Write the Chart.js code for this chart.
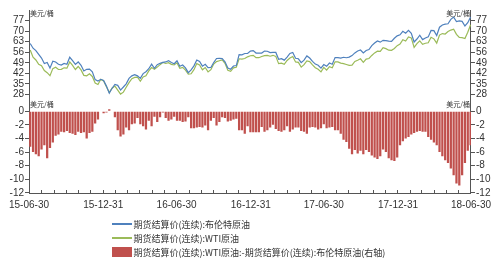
<!DOCTYPE html>
<html>
<head>
<meta charset="utf-8">
<script src="https://cdn.jsdelivr.net/npm/chart.js@4/dist/chart.umd.min.js"></script>
<style>
  html, body { margin: 0; padding: 0; background: #fff; }
  #wrap { position: relative; width: 500px; height: 259px; }
  .row { position: absolute; left: 112px; height: 14px; display: flex; align-items: center;
         font: 9px "Noto Sans CJK SC", sans-serif; color: #333; white-space: nowrap; }
  .ln { display: inline-block; width: 20px; height: 1.4px; margin-right: 1.5px; }
  .bx { display: inline-block; width: 20px; height: 10px; margin-right: 1.5px; background: #c0504d; }
</style>
</head>
<body>
<div id="wrap">
  <canvas id="oilChart" width="500" height="259"></canvas>
  <div class="row" style="top:217px"><span class="ln" style="background:#4f81bd"></span>期货结算价(连续):布伦特原油</div>
  <div class="row" style="top:231px"><span class="ln" style="background:#9bbb59"></span>期货结算价(连续):WTI原油</div>
  <div class="row" style="top:245px"><span class="bx"></span>期货结算价(连续):WTI原油:-期货结算价(连续):布伦特原油(右轴)</div>
</div>
<script>
// weekly (Friday) settlements, 2015-07-03 .. 2018-06-29
const firstWeek = '15-07-03';
const brent = [
  61.8, 58.7, 57.1, 54.6, 52.2, 48.6, 49.2, 45.5, 50.1, 49.6, 48.1, 47.5, 48.6, 48.1, 52.7, 50.5, 48.0, 49.6, 47.4, 43.6, 44.7, 44.9, 43.0, 37.9, 36.9, 38.1, 37.3,
  33.6, 28.9, 32.2, 34.7, 34.1, 31.0, 33.0, 35.1, 38.7, 40.4, 41.2, 40.4, 38.7, 41.9, 43.1, 45.1, 48.1, 45.4, 47.8, 48.7, 49.3, 49.6, 50.5, 49.2, 48.4,
  50.4, 46.8, 47.6, 45.7, 42.5, 44.3, 47.0, 50.9, 49.9, 46.8, 48.0, 45.8, 45.9, 49.2, 51.9, 52.0, 51.8, 49.7, 45.6, 44.8, 46.9, 47.2, 54.5, 54.3, 55.2, 55.2, 56.8,
  57.1, 55.5, 55.5, 55.5, 56.8, 56.7, 55.8, 56.0, 55.9, 51.4, 51.8, 50.8, 52.8, 55.2, 55.9, 52.0, 51.7, 49.1, 50.8, 53.6, 52.2, 50.0, 48.2, 47.4, 45.5, 47.9,
  46.7, 48.9, 48.1, 52.5, 52.4, 52.1, 52.7, 52.4, 52.8, 53.8, 55.6, 56.9, 57.5, 55.6, 57.2, 57.8, 60.4, 62.1, 63.5, 62.7, 63.9, 63.7, 63.4, 63.2, 65.3, 66.9,
  67.6, 69.9, 68.6, 70.5, 68.6, 62.8, 64.8, 67.3, 64.4, 65.5, 66.2, 70.5, 70.3, 67.1, 72.6, 74.1, 74.6, 74.9, 77.8, 79.3, 76.4, 76.8, 76.5, 73.4, 75.6, 79.4
];
const wti = [
  57.5, 52.7, 50.9, 48.1, 47.1, 43.9, 42.5, 40.5, 45.2, 46.1, 44.6, 44.7, 45.7, 45.5, 49.6, 47.3, 44.6, 46.6, 44.3, 40.7, 40.4, 41.7, 40.0, 35.6, 34.7, 38.1, 37.0,
  33.2, 29.4, 32.2, 33.6, 30.9, 28.3, 29.6, 32.8, 35.9, 38.5, 39.4, 39.5, 36.8, 39.7, 40.4, 43.7, 45.9, 44.7, 46.2, 47.8, 49.3, 48.6, 49.1, 48.0, 47.6,
  49.0, 45.4, 46.0, 44.2, 41.6, 41.8, 44.5, 48.5, 47.6, 44.4, 45.9, 43.0, 44.5, 48.2, 49.8, 50.4, 50.9, 48.7, 44.1, 43.4, 45.7, 46.1, 51.7, 51.5, 51.9, 53.0, 53.7,
  54.0, 52.4, 52.4, 53.2, 53.8, 53.9, 53.4, 54.0, 53.3, 48.5, 48.8, 48.0, 50.6, 52.2, 53.2, 49.6, 49.3, 46.2, 47.8, 50.3, 49.8, 47.7, 45.8, 44.7, 43.0, 46.0,
  44.2, 46.5, 45.8, 49.7, 49.6, 48.8, 48.5, 47.9, 47.3, 47.5, 49.9, 50.7, 51.7, 49.3, 51.5, 51.9, 53.9, 55.6, 56.7, 56.6, 59.0, 58.4, 57.4, 57.3, 58.5, 60.4,
  61.4, 64.3, 63.4, 66.1, 65.5, 59.2, 61.7, 63.6, 61.3, 62.0, 62.3, 65.9, 64.9, 62.1, 67.4, 68.4, 68.1, 69.7, 70.7, 71.3, 67.9, 65.8, 65.7, 65.1, 69.3, 74.2
];
const spread = [
  -5.2, -6.0, -6.3, -6.6, -5.6, -5.0, -6.9, -5.4, -4.6, -3.6, -3.4, -3.0, -3.1, -2.9, -3.2, -3.3, -3.5, -3.0, -3.2, -3.1, -4.0, -3.2, -3.0, -1.8, -1.2, 0.0, -0.3,
  -0.2, 0.3, 0.0, -0.9, -2.8, -3.7, -3.4, -2.4, -2.8, -1.9, -1.8, -1.0, -1.9, -2.2, -2.7, -1.4, -2.2, -0.8, -1.6, -0.9, -0.2, -1.0, -1.4, -1.2, -0.8,
  -1.4, -1.4, -1.6, -1.5, -0.9, -2.5, -2.5, -2.4, -2.3, -2.4, -2.1, -2.8, -1.4, -1.0, -2.1, -1.6, -0.9, -1.0, -1.5, -1.4, -1.2, -1.1, -2.8, -2.8, -3.3, -2.2, -3.1,
  -3.1, -3.1, -3.1, -2.3, -3.0, -2.8, -2.4, -2.0, -2.6, -2.9, -3.0, -2.8, -2.2, -3.0, -2.7, -2.4, -2.4, -2.9, -3.0, -3.3, -2.4, -2.3, -2.4, -2.7, -2.5, -1.9,
  -2.5, -2.4, -2.3, -2.8, -2.8, -3.3, -4.2, -4.5, -5.5, -6.3, -5.7, -6.2, -5.8, -6.3, -5.7, -6.0, -6.5, -6.8, -7.0, -6.6, -5.6, -6.0, -6.9, -7.2, -7.3, -6.8,
  -5.0, -4.4, -4.0, -3.8, -3.4, -3.2, -3.0, -2.9, -3.0, -3.0, -3.8, -4.2, -4.6, -5.0, -6.0, -6.6, -7.2, -7.6, -8.4, -9.4, -10.6, -10.9, -9.4, -7.6, -5.8, -5.0
];
const xTickLabels = ['15-06-30', '15-12-31', '16-06-30', '16-12-31', '17-06-30', '17-12-31', '18-06-30'];
const priceTicks = [28, 35, 42, 49, 56, 63, 70, 77];
const spreadTicks = [0, -2, -4, -6, -8, -10, -12];
const unit = '美元/桶';
const names = ['期货结算价(连续):布伦特原油', '期货结算价(连续):WTI原油', '期货结算价(连续):WTI原油:-期货结算价(连续):布伦特原油(右轴)'];

const start = Date.UTC(2015, 5, 30);
const dayOf = s => (Date.UTC(2000 + +s.slice(0, 2), +s.slice(3, 5) - 1, +s.slice(6, 8)) - start) / 864e5;
const weekDays = brent.map((_, i) => dayOf(firstWeek) + 7 * i);
const monthEnds = [];
for (let m = 0; m <= 36; m++) monthEnds.push((Date.UTC(2015, 6 + m, 0) - start) / 864e5);
const labelDays = xTickLabels.map(dayOf);
const xy = arr => arr.map((v, i) => ({ x: weekDays[i], y: v }));

Chart.defaults.font.family = '"Liberation Sans", "Noto Sans CJK SC", sans-serif';
Chart.defaults.font.size = 10;
Chart.defaults.color = '#333';

const axisCol = '#555';
const yAxis = (pos, stack, weight, stackWeight, min, max, ticks, fitW) => ({
  type: 'linear', position: pos, stack: stack, weight: weight, stackWeight: stackWeight,
  min: min, max: max,
  afterBuildTicks: s => { s.ticks = ticks.map(v => ({ value: v })); },
  afterFit: s => { s.width = fitW; },
  grid: { drawOnChartArea: false, color: axisCol, tickLength: 4 },
  border: { color: axisCol },
  ticks: { autoSkip: false, padding: 1 }
});

const unitLabels = {
  id: 'unitLabels',
  afterDraw(chart) {
    const { ctx, scales } = chart;
    ctx.save();
    ctx.font = '7px "Noto Sans CJK SC"';
    ctx.fillStyle = '#333';
    ctx.textBaseline = 'top';
    ctx.textAlign = 'left';
    ctx.fillText(unit, scales.y.right + 1, scales.y.top);
    ctx.fillText(unit, scales.y2.right + 1, scales.y2.top + 3);
    ctx.textAlign = 'right';
    ctx.fillText(unit, scales.yR.left - 1, scales.yR.top);
    ctx.fillText(unit, scales.y2R.left - 1, scales.y2R.top + 3);
    ctx.restore();
  }
};

const ctx = document.getElementById('oilChart').getContext('2d');
const myChart = new Chart(ctx, {
  type: 'line',
  data: {
    datasets: [
      { label: names[0], data: xy(brent), yAxisID: 'y', borderColor: '#4f81bd', borderWidth: 1.2, pointRadius: 0, order: 1 },
      { label: names[1], data: xy(wti), yAxisID: 'y', borderColor: '#9bbb59', borderWidth: 1.2, pointRadius: 0, order: 2 },
      { type: 'bar', label: names[2], data: xy(spread), yAxisID: 'y2', backgroundColor: '#c0504d',
        barPercentage: 1, categoryPercentage: 0.8, order: 3 }
    ]
  },
  options: {
    responsive: false,
    animation: false,
    layout: { padding: { top: 10, left: 0, right: 0, bottom: 0 } },
    plugins: { legend: { display: false }, tooltip: { enabled: false } },
    scales: {
      x: {
        type: 'linear', position: 'bottom', min: 0, max: dayOf('18-06-30'), offset: false,
        afterBuildTicks: s => { s.ticks = monthEnds.map(v => ({ value: v })); },
        afterFit: s => { s.height = 66; },
        grid: { drawOnChartArea: false, offset: false, color: axisCol, tickLength: -3 },
        border: { color: axisCol },
        ticks: {
          autoSkip: false, maxRotation: 0, padding: 9,
          callback: v => { const k = labelDays.indexOf(v); return k >= 0 ? xTickLabels[k] : ''; }
        }
      },
      y: yAxis('left', 'L', 2, 0.918, 26, 84, priceTicks, 23),
      y2: yAxis('left', 'L', 1, 1, -12, 2, spreadTicks, 23),
      yR: yAxis('right', 'R', 1, 0.918, 26, 84, priceTicks, 24),
      y2R: yAxis('right', 'R', 2, 1, -12, 2, spreadTicks, 24)
    }
  },
  plugins: [unitLabels]
});
</script>
</body>
</html>
